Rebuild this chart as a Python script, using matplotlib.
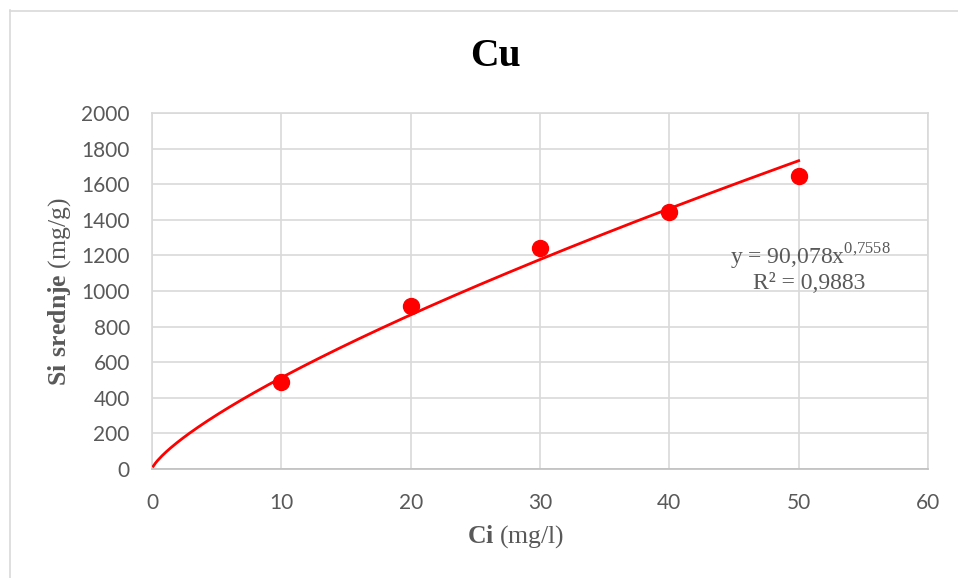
import numpy as np
import matplotlib.pyplot as plt
from matplotlib.lines import Line2D

# podaci sa slike
ci = [10, 20, 30, 40, 50]
si = [489, 916, 1242, 1446, 1646]
x_ticks = [0, 10, 20, 30, 40, 50, 60]
y_ticks = [0, 200, 400, 600, 800, 1000, 1200, 1400, 1600, 1800, 2000]
eq_text = "y = 90,078x$^{0{,}7558}$"
r2_text = "R² = 0,9883"

plt.rcParams['mathtext.fontset'] = 'custom'
plt.rcParams['mathtext.rm'] = 'Liberation Serif'
plt.rcParams['mathtext.bf'] = 'Liberation Serif:bold'

W, H = 958, 578
fig = plt.figure(figsize=(W / 100, H / 100), dpi=100)
ax = fig.add_axes([152 / W, 1 - 469 / H, (928 - 152) / W, (469 - 113) / H])

# power trendline (log-log fit like Excel)
b, loga = np.polyfit(np.log(ci), np.log(si), 1)
xt = np.linspace(0.1, 50, 300)
yt = np.exp(loga) * xt ** b
ax.plot(xt, yt, color='#ff0000', lw=2, zorder=3)
ax.plot(ci, si, 'o', color='#ff0000', ms=11.5, zorder=4)

ax.set_xlim(0, 60)
ax.set_ylim(0, 2000)
ax.set_xticks(x_ticks)
ax.set_yticks(y_ticks)
ax.grid(True, color='#d9d9d9', lw=1.2)
ax.set_axisbelow(True)
for s in ['top', 'right', 'left']:
    ax.spines[s].set_color('#d9d9d9')
    ax.spines[s].set_linewidth(1.2)
ax.spines['bottom'].set_color('#bfbfbf')
ax.spines['bottom'].set_linewidth(1.2)
ax.tick_params(length=0, labelsize=15, labelcolor='#595959')
for lab in ax.get_xticklabels() + ax.get_yticklabels():
    lab.set_fontfamily('Lato')
ax.tick_params(axis='y', pad=16)
ax.tick_params(axis='x', pad=17)

fig.text(495 / W, 1 - 57 / H, 'Cu', ha='center', va='center',
         family='Liberation Serif', weight='bold', fontsize=28.5, color='black')
fig.text(60 / W, 1 - 292 / H, r'$\mathbf{Si\ srednje}$ (mg/g)', rotation=90,
         ha='center', va='center', family='Liberation Serif', fontsize=18.5, color='#595959')
fig.text(516 / W, 1 - 537 / H, r'$\mathbf{Ci}$ (mg/l)', ha='center', va='center',
         family='Liberation Serif', fontsize=18.5, color='#595959')

fig.text(810 / W, 1 - 257 / H, eq_text, ha='center', va='center',
         family='Liberation Serif', fontsize=17, color='#595959')
fig.text(809 / W, 1 - 283 / H, r2_text, ha='center', va='center',
         family='Liberation Serif', fontsize=17, color='#595959')

# okvir grafikona
fig.add_artist(Line2D([9.5 / W, 9.5 / W], [0, 1 - 10 / H], transform=fig.transFigure,
                      color='#d9d9d9', lw=1.2))
fig.add_artist(Line2D([9.5 / W, 1], [1 - 10.5 / H, 1 - 10.5 / H], transform=fig.transFigure,
                      color='#d9d9d9', lw=1.2))

fig.savefig('out.png', dpi=100)
